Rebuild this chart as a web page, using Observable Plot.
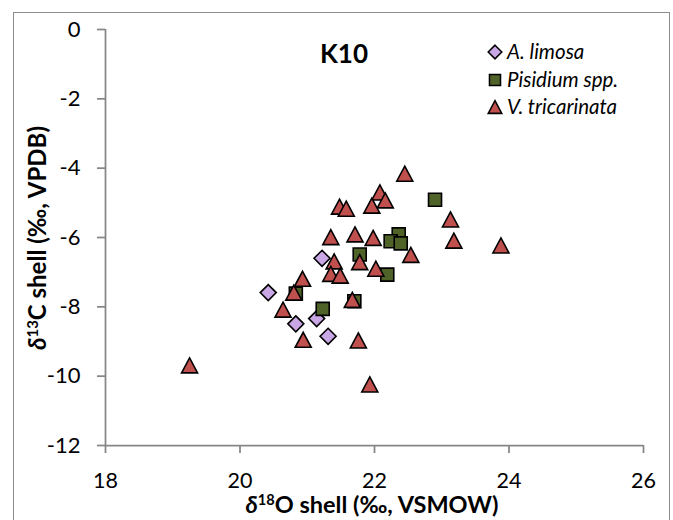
<!DOCTYPE html>
<html>
<head>
<meta charset="utf-8">
<script src="https://cdn.jsdelivr.net/npm/d3@7"></script>
<script src="https://cdn.jsdelivr.net/npm/@observablehq/plot@0.6"></script>
<style>
  html, body { margin: 0; padding: 0; background: #fff; }
  #wrap { position: relative; width: 673px; height: 520px; overflow: hidden; font-family: Lato, "Open Sans", sans-serif; color: #000; }
  #border { position: absolute; left: 13px; top: 12px; width: 657px; height: 600px; border: 1.5px solid #8c8c8c; box-sizing: border-box; }
  #chart { position: absolute; left: 0; top: 0; }
  .ov { position: absolute; white-space: nowrap; line-height: 1; }
  .sup { font-size: 0.62em; vertical-align: 0.55em; }
  .leg { position: absolute; font-style: italic; font-size: 20.5px; white-space: nowrap; line-height: 1; }
  .legsym { position: absolute; }
</style>
</head>
<body>
<div id="wrap">
  <div id="border"></div>
  <div id="chart"></div>
</div>
<script>
// ---- data ----
const xTicks = [18, 20, 22, 24, 26];
const yTicks = [0, -2, -4, -6, -8, -10, -12];
const seriesNames = ["A. limosa", "Pisidium spp.", "V. tricarinata"];

const limosaX = [20.42, 20.83, 21.14, 21.31, 21.22];
const limosaY = [-7.59, -8.49, -8.34, -8.85, -6.60];

const pisidiumX = [22.90, 22.36, 22.24, 22.39, 21.78, 22.19, 21.23, 20.83, 21.70];
const pisidiumY = [-4.91, -5.91, -6.11, -6.17, -6.49, -7.07, -8.06, -7.62, -7.84];

const tricX = [19.25, 22.45, 22.08, 22.16, 21.96, 21.48, 21.58, 23.13, 23.18, 23.88, 21.35, 21.71, 21.98,
               22.54, 21.40, 21.78, 22.02, 21.35, 21.49, 20.93, 20.80, 20.64, 21.67, 20.94, 21.76, 21.93];
const tricY = [-9.69, -4.16, -4.70, -4.93, -5.08, -5.11, -5.17, -5.48, -6.09, -6.23, -5.99, -5.91, -6.01,
               -6.50, -6.69, -6.71, -6.90, -7.05, -7.10, -7.19, -7.59, -8.08, -7.80, -8.95, -8.97, -10.24];

const seriesColors = ["#c9a6e4", "#4f6228", "#c0504d"];

// ---- build tables ----
const toRows = (xs, ys) => xs.map((x, i) => ({x, y: ys[i]}));
const limosa = toRows(limosaX, limosaY);
const pisidium = toRows(pisidiumX, pisidiumY);
const tric = toRows(tricX, tricY);

// marker shapes (Excel-like, fixed pixel size)
const diamondSym = {draw(c) { const h = 8; c.moveTo(0, -h); c.lineTo(h, 0); c.lineTo(0, h); c.lineTo(-h, 0); c.closePath(); }};
const squareSym = {draw(c) { const h = 6.5; c.moveTo(-h, -h); c.lineTo(h, -h); c.lineTo(h, h); c.lineTo(-h, h); c.closePath(); }};
const triSym = {draw(c) { c.moveTo(0, -7.5); c.lineTo(8, 7.5); c.lineTo(-8, 7.5); c.closePath(); }};
const syms = [diamondSym, squareSym, triSym];

const axisGray = "#868686";

const chart = Plot.plot({
  width: 673,
  height: 520,
  marginLeft: 105,
  marginRight: 30,
  marginTop: 29,
  marginBottom: 75,
  style: {fontFamily: "Lato, 'Open Sans', sans-serif", background: "transparent", overflow: "visible"},
  x: {domain: [18, 26]},
  y: {domain: [-12, 0]},
  marks: [
    Plot.axisX({ticks: xTicks, tickSize: 8, tickPadding: 19, stroke: axisGray, strokeWidth: 1.75, fill: "#000",
      fontSize: 21.5, tickFormat: d => String(d), label: null}),
    Plot.axisY({ticks: yTicks, tickSize: 8, tickPadding: 17, stroke: axisGray, strokeWidth: 1.75, fill: "#000",
      fontSize: 22, tickFormat: d => String(d), label: null}),
    Plot.ruleX([18], {stroke: axisGray, strokeWidth: 1.75}),
    Plot.ruleY([-12], {stroke: axisGray, strokeWidth: 1.75}),
    Plot.dot(limosa, {x: "x", y: "y", symbol: diamondSym, fill: seriesColors[0], stroke: "#000", strokeWidth: 1.6}),
    Plot.dot(pisidium, {x: "x", y: "y", symbol: squareSym, fill: seriesColors[1], stroke: "#000", strokeWidth: 1.6}),
    Plot.dot(tric, {x: "x", y: "y", symbol: triSym, fill: seriesColors[2], stroke: "#000", strokeWidth: 1.6})
  ]
});
document.getElementById("chart").appendChild(chart);

const wrap = document.getElementById("wrap");
function addDiv(html, cls, style) {
  const d = document.createElement("div");
  d.className = cls;
  d.innerHTML = html;
  Object.assign(d.style, style);
  wrap.appendChild(d);
  return d;
}

// title
addDiv("K10", "ov", {left: "344px", top: "53px", transform: "translate(-50%,-50%)", fontSize: "26px", fontWeight: "bold"});
// x axis title
addDiv('<i>δ</i><span class="sup">18</span>O shell (‰, VSMOW)', "ov",
  {left: "372px", top: "504px", transform: "translate(-50%,-50%)", fontSize: "23.5px", fontWeight: "bold", lineHeight: "0.7"});
// y axis title
addDiv('<i>δ</i><span class="sup">13</span>C shell (‰, VPDB)', "ov",
  {left: "37px", top: "238px", transform: "translate(-50%,-50%) rotate(-90deg)", fontSize: "24px", fontWeight: "bold"});

// legend
const legY = [52, 79.5, 107];
seriesNames.forEach((name, i) => {
  const svg = d3.create("svg").attr("width", 20).attr("height", 20).attr("class", "legsym")
    .style("left", (495 - 10) + "px").style("top", (legY[i] - 10) + "px");
  const p = d3.path();
  syms[i].draw(p);
  svg.append("path").attr("d", p.toString()).attr("transform", "translate(10,10) scale(0.85)")
    .attr("fill", seriesColors[i]).attr("stroke", "#000").attr("stroke-width", 1.8);
  wrap.appendChild(svg.node());
  addDiv(name, "leg", {left: "507px", top: (legY[i] - 11) + "px"});
});
</script>
</body>
</html>
